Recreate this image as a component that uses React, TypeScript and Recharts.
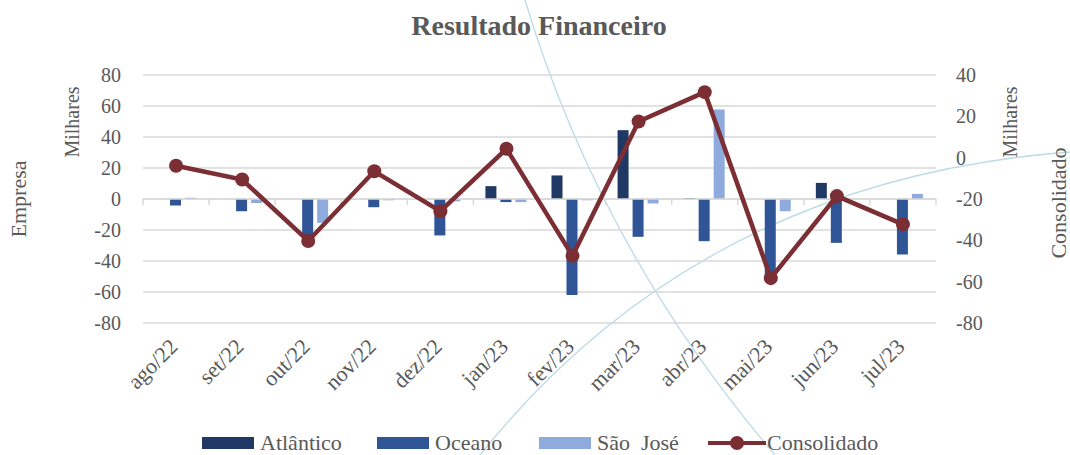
import { ComposedChart, Bar, Line, XAxis, YAxis, CartesianGrid, ReferenceLine } from 'recharts';

const months = ['ago/22', 'set/22', 'out/22', 'nov/22', 'dez/22', 'jan/23', 'fev/23', 'mar/23', 'abr/23', 'mai/23', 'jun/23', 'jul/23'];
const atlantico = [0, 0, 0, 0, 0, 8.3, 15.2, 44.4, 0.5, 0, 10.4, 0];
const oceano = [-4.2, -7.9, -25, -5.3, -23.5, -2, -62, -24.4, -27.2, -50, -28.3, -35.8];
const saoJose = [0.8, -2.5, -15.4, -0.8, -1.5, -2, -0.8, -2.9, 57.7, -7.9, 0, 3.3];
const consolidado = [-3.9, -10.6, -40.3, -6.6, -25.9, 4.3, -47.5, 17.5, 31.7, -58.3, -18.6, -32.3];

const leftTicks = [-80, -60, -40, -20, 0, 20, 40, 60, 80];
const rightTicks = [-80, -60, -40, -20, 0, 20, 40];

const data = months.map((m, i) => ({
  month: m,
  atlantico: atlantico[i],
  oceano: oceano[i],
  saoJose: saoJose[i],
  consolidado: consolidado[i],
}));

const FONT = '"Liberation Serif", "Times New Roman", serif';
const TEXT = '#595959';
const GRID = '#d9d9d9';
const C_ATL = '#203864';
const C_OCE = '#2f5597';
const C_SJ = '#8faadc';
const C_CON = '#7b2e33';

const MonthTick = (props: any) => {
  const { x, y, payload } = props;
  const tx = x + 3;
  const ty = y + 15;
  return (
    <text
      x={tx}
      y={ty}
      transform={`rotate(-45, ${tx}, ${ty})`}
      textAnchor="end"
      fill={TEXT}
      fontSize={22}
      fontFamily={FONT}
    >
      {payload.value}
    </text>
  );
};

// zero line with small tick marks at the category boundaries
const ZeroLine = (props: any) => {
  const { x1, y1, x2 } = props;
  const step = (x2 - x1) / months.length;
  return (
    <g>
      <line x1={x1} y1={y1} x2={x2} y2={y1} stroke={GRID} strokeWidth={1.5} />
      {Array.from({ length: months.length + 1 }, (_, i) => (
        <line key={i} x1={x1 + i * step} y1={y1} x2={x1 + i * step} y2={y1 + 6} stroke={GRID} strokeWidth={1.5} />
      ))}
    </g>
  );
};

const legendItems = [
  { name: 'Atlântico', color: C_ATL, left: 202, type: 'bar' },
  { name: 'Oceano', color: C_OCE, left: 377, type: 'bar' },
  { name: 'São  José', color: C_SJ, left: 539, type: 'bar' },
  { name: 'Consolidado', color: C_CON, left: 708, type: 'line' },
];

function Legend() {
  return (
    <>
      {legendItems.map((it) => (
        <div key={it.name} style={{ position: 'absolute', left: it.left, top: 430, height: 26, display: 'flex', alignItems: 'center' }}>
          {it.type === 'bar' ? (
            <div style={{ width: 52, height: 12, background: it.color, marginRight: 6 }} />
          ) : (
            <svg width={58} height={16} style={{ marginRight: 1 }}>
              <line x1={0} y1={8} x2={58} y2={8} stroke={it.color} strokeWidth={4} />
              <circle cx={29} cy={8} r={7} fill={it.color} />
            </svg>
          )}
          <span style={{ fontFamily: FONT, fontSize: 22, color: TEXT, whiteSpace: 'pre' }}>{it.name}</span>
        </div>
      ))}
    </>
  );
}

export default function App() {
  return (
    <div style={{ position: 'absolute', left: 0, top: 0, width: 1070, height: 455, background: '#fff', overflow: 'hidden' }}>
      <svg width={1070} height={455} style={{ position: 'absolute', left: 0, top: 0 }}>
        <path d="M 525 0 Q 600 250 775 455" fill="none" stroke="#bcdbe6" strokeWidth={1.3} />
        <path d="M 480 455 Q 700 180 1070 152" fill="none" stroke="#bcdbe6" strokeWidth={1.3} />
      </svg>
      <div style={{ position: 'absolute', left: 0, top: 0 }}>
        <ComposedChart
          width={1070}
          height={455}
          data={data}
          margin={{ top: 75, right: 0, bottom: 0, left: 0 }}
          barCategoryGap={12}
          barGap={4}
        >
          <CartesianGrid yAxisId="left" vertical={false} stroke={GRID} strokeWidth={1.5} />
          <XAxis
            dataKey="month"
            height={132}
            axisLine={false}
            tickLine={false}
            interval={0}
            tick={<MonthTick />}
            tickMargin={4}
          />
          <YAxis
            yAxisId="left"
            width={143}
            domain={[-80, 80]}
            ticks={leftTicks}
            axisLine={false}
            tickLine={false}
            tickMargin={16}
            tick={{ fill: TEXT, fontSize: 20, fontFamily: FONT }}
          />
          <YAxis
            yAxisId="right"
            orientation="right"
            width={134}
            domain={[-80, 40]}
            ticks={rightTicks}
            axisLine={false}
            tickLine={false}
            tickMargin={14}
            tick={{ fill: TEXT, fontSize: 20, fontFamily: FONT, textAnchor: 'start' }}
          />
          <ReferenceLine yAxisId="left" y={0} shape={<ZeroLine />} />
          <Bar yAxisId="left" dataKey="atlantico" name="Atlântico" fill={C_ATL} isAnimationActive={false} />
          <Bar yAxisId="left" dataKey="oceano" name="Oceano" fill={C_OCE} isAnimationActive={false} />
          <Bar yAxisId="left" dataKey="saoJose" name="São José" fill={C_SJ} isAnimationActive={false} />
          <Line
            yAxisId="right"
            dataKey="consolidado"
            name="Consolidado"
            stroke={C_CON}
            strokeWidth={4.5}
            dot={{ r: 7, fill: C_CON, stroke: C_CON, strokeWidth: 0 }}
            isAnimationActive={false}
          />
        </ComposedChart>
      </div>
      <svg width={1070} height={455} style={{ position: 'absolute', left: 0, top: 0, pointerEvents: 'none' }}>
        <text x={539} y={35} textAnchor="middle" fontFamily={FONT} fontSize={28} fontWeight="bold" fill={TEXT}>
          Resultado Financeiro
        </text>
        <text transform="translate(26, 199) rotate(-90)" textAnchor="middle" fontFamily={FONT} fontSize={22} fill={TEXT}>
          Empresa
        </text>
        <text transform="translate(79, 122) rotate(-90)" textAnchor="middle" fontFamily={FONT} fontSize={20} fill={TEXT}>
          Milhares
        </text>
        <text transform="translate(1017, 122) rotate(-90)" textAnchor="middle" fontFamily={FONT} fontSize={20} fill={TEXT}>
          Milhares
        </text>
        <text transform="translate(1066, 203) rotate(-90)" textAnchor="middle" fontFamily={FONT} fontSize={22} fill={TEXT}>
          Consolidado
        </text>
      </svg>
      <Legend />
    </div>
  );
}
